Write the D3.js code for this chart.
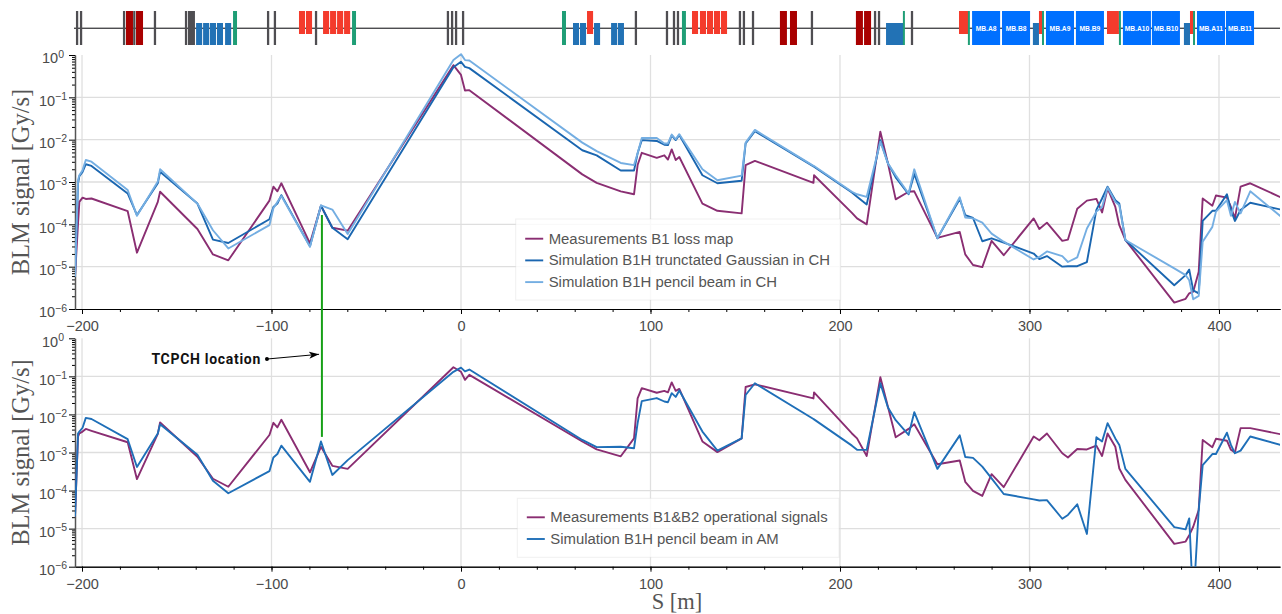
<!DOCTYPE html>
<html>
<head>
<meta charset="utf-8">
<script src="https://cdn.jsdelivr.net/npm/d3@7"></script>
<style>
  body { margin: 0; background: #fff; }
  svg { display: block; }
</style>
</head>
<body>
<div id="content"></div>
<script>
// BLM positions along the ring [m]
const sPositions = [
  -203.7,-202.1,-201.4,-199.7,-198,-195,-175.9,-171,-160,-158.8,-139.1,-130.9,-122.8,-101.1,-99,-96.9,-94.8,-79.7,-73.9,-67.9,-59.8,
  -4,0,2.1,4.4,64,71.6,84.3,91.3,93.2,95.4,103.3,107.3,109.2,111.2,113.3,115.2,127.4,135.3,148.1,150.2,155.1,186,186.3,
  206.3,209,214.1,221.3,225.3,229.4,236.2,239.2,251.4,263.2,266.1,270.2,275.1,280,286.4,302.2,305.2,309.2,317.3,320.3,325.2,330.3,335.3,338.3,341.2,345.3,347.4,350.6,376.4,382.4,384.3,386.4,389.3,391.4,396.5,398.4,404.2,406.3,408.4,411.4,416.5,432.5
];

// Series as log10(Gy/s)
const lossMapB1 = [
  -5.24,-3.98,-3.47,-3.37,-3.40,-3.39,-3.69,-4.67,-3.47,-3.23,-4.11,-4.71,-4.85,-3.44,-3.11,-3.22,-3.03,-4.45,-3.56,-4.08,-4.15,
  -0.24,-0.47,-0.84,-0.83,-2.82,-3.02,-3.22,-3.29,-2.60,-2.31,-2.43,-2.37,-2.47,-2.23,-2.48,-2.41,-3.51,-3.68,-3.74,-2.60,-2.50,-3.02,-2.84,
  -3.73,-3.86,-4.00,-1.81,-2.56,-3.41,-3.23,-3.22,-4.32,-4.18,-4.71,-4.96,-5.01,-4.39,-4.73,-3.86,-4.11,-3.96,-4.39,-4.36,-3.63,-3.44,-3.40,-3.72,-3.15,-3.59,-4.02,-4.37,-5.85,-5.76,-5.63,-5.59,-5.12,-3.39,-3.56,-3.32,-3.37,-3.59,-3.86,-3.11,-3.03,-3.36
];
const gaussianCH = [
  -5.24,-3.03,-2.86,-2.76,-2.58,-2.62,-3.27,-3.78,-3.03,-2.76,-3.51,-4.36,-4.44,-3.88,-3.59,-3.51,-3.31,-4.52,-3.56,-4.08,-4.35,
  -0.29,-0.16,-0.28,-0.31,-2.25,-2.37,-2.73,-2.73,-2.32,-2.01,-2.03,-2.12,-2.13,-1.90,-2.01,-1.89,-2.84,-3.03,-2.97,-2.09,-1.80,-2.63,-2.64,
  -3.25,-3.35,-3.53,-2.01,-2.56,-2.89,-3.29,-2.81,-4.33,-3.40,-3.78,-3.85,-4.40,-4.33,-4.43,-4.69,-4.82,-4.75,-5.00,-4.99,-4.99,-4.89,-3.66,-3.39,-3.11,-3.43,-3.51,-4.37,-5.44,-5.20,-5.07,-5.56,-5.63,-3.92,-3.68,-3.68,-3.29,-3.66,-3.92,-3.66,-3.49,-3.65
];
const pencilCH = [
  -5.24,-2.96,-2.84,-2.72,-2.48,-2.52,-3.19,-3.80,-2.99,-2.70,-3.51,-4.14,-4.57,-4.02,-3.62,-3.47,-3.33,-4.53,-3.55,-3.65,-4.23,
  -0.12,0.02,-0.12,-0.13,-2.07,-2.27,-2.55,-2.60,-2.32,-1.96,-1.96,-2.09,-2.09,-1.88,-1.99,-1.87,-2.70,-2.96,-2.85,-2.07,-1.77,-2.62,-2.62,
  -3.23,-3.29,-3.35,-2.05,-2.56,-2.84,-3.27,-2.70,-4.33,-3.36,-3.84,-3.86,-3.96,-4.22,-4.41,-4.83,-4.77,-4.64,-4.75,-4.89,-4.78,-4.10,-3.70,-3.59,-3.13,-3.47,-3.55,-4.37,-5.04,-5.20,-5.32,-5.77,-5.69,-4.41,-4.06,-3.70,-3.43,-3.80,-3.47,-3.74,-3.22,-3.81
];
const operational = [
  -4.68,-2.58,-2.50,-2.45,-2.38,-2.43,-2.73,-3.70,-2.51,-2.21,-3.11,-3.69,-3.90,-2.54,-2.22,-2.34,-2.14,-3.52,-2.85,-3.35,-3.43,
  -0.76,-0.88,-1.09,-0.96,-2.71,-2.92,-3.10,-2.63,-1.58,-1.31,-1.43,-1.38,-1.42,-1.16,-1.38,-1.33,-2.71,-2.99,-2.63,-1.28,-1.21,-1.58,-1.42,
  -2.50,-2.63,-3.09,-1.02,-1.80,-2.60,-2.38,-2.26,-3.31,-3.21,-3.77,-4.01,-4.14,-3.57,-3.91,-2.58,-2.68,-2.50,-3.02,-3.13,-2.91,-2.92,-2.82,-3.09,-2.50,-2.85,-3.42,-3.72,-5.40,-5.34,-5.17,-4.95,-4.51,-2.67,-2.86,-2.64,-2.69,-2.93,-3.00,-2.36,-2.36,-2.52
];
const pencilAM = [
  -4.68,-2.50,-2.45,-2.35,-2.09,-2.12,-2.65,-3.38,-2.50,-2.26,-3.06,-3.74,-4.07,-3.49,-3.13,-3.04,-2.82,-3.77,-2.71,-3.59,-3.20,
  -0.88,-0.77,-0.87,-0.82,-2.67,-2.86,-2.85,-2.89,-2.23,-1.65,-1.57,-1.66,-1.68,-1.44,-1.54,-1.37,-2.45,-2.95,-2.63,-1.49,-1.18,-2.12,-2.13,
  -2.82,-2.93,-2.93,-1.18,-1.82,-2.15,-2.54,-1.94,-3.43,-2.55,-3.12,-3.14,-3.37,-3.68,-4.09,-4.23,-4.26,-4.25,-4.74,-4.64,-4.36,-5.14,-2.60,-2.71,-2.23,-2.63,-2.80,-3.43,-4.96,-5.02,-4.73,-7.00,-4.51,-3.33,-3.04,-3.04,-2.48,-2.80,-3.02,-2.95,-2.58,-2.80
];

// Lattice elements, [start S, length] in metres
const thinCollimators = [-202.6,-200.5,-177.8,-172.4,-161.5,-145.1,-101.8,-98.2,-76.5,-6.9,-4.7,-2.6,1.1,92.3,108.7,112.4,114.5,147.2,149.3,154.1,185.2,218.5,220.6,238];
const darkRed = [[-176.8,3.7],[-171.5,3.7],[168.3,3.7],[173.6,3.7],[208.4,3.7],[212.7,3.7]];
const darkGrey = [[-144.1,3.7]];
const quads = [[-139.8,3.2],[-136.1,3.2],[-132.5,3.2],[-128.8,3.2],[-124.5,3.2],[59.1,3.2],[62.8,3.2],[70.2,3.2],[79.2,3.2],[82.8,3.2],[224.3,9],[301.8,3.2],[381.5,3.2]];
const greens = [[-120.3,2.1],[-57.5,2.1],[53.3,2.1],[116.6,2.1],[233.2,1.05],[267.5,1.05],[306.6,1.05],[347.2,1.05],[386.3,1.05]];
const reds = [[-85.5,3.2],[-81.8,3.2],[-72.8,3.2],[-69.1,3.2],[-65.4,3.2],[-61.7,3.2],[66.5,3.2],[121.9,3.2],[126.1,3.2],[129.8,3.2],[133.5,3.2],[137.2,3.2],[262.8,4.75],[305,1.6],[340.9,6.3],[384.7,1.6]];
const dipoles = [[269.7,14.8],[285.5,14.8],[308.7,14.8],[324.5,14.8],[349.3,14.8],[364.6,14.8],[388.4,14.8],[403.7,14.8]];
const dipoleNames = ['MB.A8','MB.B8','MB.A9','MB.B9','MB.A10','MB.B10','MB.A11','MB.B11'];

const xMajor = [-200,-100,0,100,200,300,400];
const xMinor = d3.range(-200, 421, 20);
const decades = [-6,-5,-4,-3,-2,-1,0];

const width = 1282, height = 614;
const FONT = '"Liberation Sans", Arial, sans-serif';
const SERIF = '"Liberation Serif", "DejaVu Serif", serif';
const PURPLE = '#8a2e72', DARKBLUE = '#1a66b0', LIGHTBLUE = '#74aee2', BLUE = '#1f6fb8';

const svg = d3.select('#content').append('svg')
  .attr('width', width)
  .attr('height', height)
  .style('font-family', FONT);

const x = d3.scaleLinear().domain([-203.7, 432.2]).range([75, 1280]);

// Top strip with the machine layout
const drawLattice = () => {
  const g = svg.append('g');
  g.append('line').attr('x1', 74).attr('x2', 1280).attr('y1', 27.5).attr('y2', 27.5)
    .attr('stroke', '#b5b5b5').attr('stroke-width', 1);
  g.append('line').attr('x1', 74).attr('x2', 1280).attr('y1', 28.5).attr('y2', 28.5)
    .attr('stroke', '#4d4d50').attr('stroke-width', 1);

  const boxes = (list, y0, y1, fill) => {
    g.selectAll(null).data(list).enter().append('rect')
      .attr('x', d => x(d[0]))
      .attr('y', y0)
      .attr('width', d => x(d[0] + d[1]) - x(d[0]))
      .attr('height', y1 - y0)
      .attr('fill', fill);
  };
  boxes(thinCollimators.map(s => [s - 0.6, 1.2]), 11, 45, '#4f4e52');
  boxes(darkGrey, 11, 45, '#4f4e52');
  boxes(darkRed, 11, 45, '#a90000');
  boxes(quads, 23, 45, '#2272b5');
  boxes(reds, 11, 34, '#f43b2c');
  boxes(greens, 11, 45, '#1f9e76');
  boxes(dipoles, 11, 45, '#0070ff');

  g.selectAll(null).data(dipoles).enter().append('text')
    .attr('x', d => x(d[0] + d[1] / 2))
    .attr('y', 30.5)
    .attr('text-anchor', 'middle')
    .attr('fill', '#fff')
    .style('font-size', '6.7px')
    .style('font-weight', 'bold')
    .text((d, i) => dipoleNames[i]);
};

// One panel of BLM signal, returns its y scale
const drawPanel = (yRange, series, legendItems, legendBox, clipId) => {
  const y = d3.scaleLog().domain([1e-6, 1]).range(yRange);
  const panel = svg.append('g');
  const bottom = yRange[0], top = yRange[1];

  // Grid
  panel.selectAll(null).data(xMajor).enter().append('line')
    .attr('x1', d => x(d)).attr('x2', d => x(d))
    .attr('y1', top).attr('y2', bottom)
    .attr('stroke', '#e0e0e0').attr('stroke-width', 1.3);
  panel.selectAll(null).data(decades.slice(1, -1)).enter().append('line')
    .attr('x1', 75).attr('x2', 1280)
    .attr('y1', d => y(10 ** d)).attr('y2', d => y(10 ** d))
    .attr('stroke', '#dedede').attr('stroke-width', 1.3);

  // Axes
  const xMinorAxis = d3.axisBottom(x).tickValues(xMinor).tickSize(3).tickSizeOuter(0).tickFormat('');
  const xAxis = d3.axisBottom(x).tickValues(xMajor).tickSize(5).tickPadding(7).tickSizeOuter(0).tickFormat(d3.format('d'));
  panel.append('g').attr('transform', `translate(0,${bottom})`).call(xMinorAxis);
  const gx = panel.append('g').attr('transform', `translate(0,${bottom})`).call(xAxis);
  gx.selectAll('text').style('font-size', '14.5px').style('font-family', FONT).attr('fill', '#4a4a4a');

  const minorVals = [];
  decades.slice(0, -1).forEach(e => d3.range(2, 10).forEach(m => minorVals.push(m * 10 ** e)));
  const yMinorAxis = d3.axisLeft(y).tickValues(minorVals).tickSize(3).tickSizeOuter(0).tickFormat('');
  const yAxis = d3.axisLeft(y).tickValues(decades.map(e => 10 ** e)).tickSize(6).tickSizeOuter(0).tickFormat('');
  panel.append('g').attr('transform', 'translate(75,0)').call(yMinorAxis);
  const gy = panel.append('g').attr('transform', 'translate(75,0)').call(yAxis);
  gy.select('.domain').attr('stroke', '#555').attr('stroke-width', 1.5);
  gy.selectAll('.tick text').data(decades)
    .attr('x', -22)
    .attr('dy', 7.7)
    .attr('text-anchor', 'middle')
    .attr('fill', '#4a4a4a')
    .style('font-size', '14.5px')
    .style('font-family', FONT)
    .each(function(e) {
      const t = d3.select(this);
      t.text('10');
      t.append('tspan').attr('dy', -5.5).style('font-size', '10.5px').text(e === 0 ? '0' : '\u2212' + Math.abs(e));
    });

  // Curves
  svg.append('clipPath').attr('id', clipId).append('rect')
    .attr('x', 75).attr('y', top - 6).attr('width', 1205).attr('height', bottom - top + 6);
  const line = d3.line().x((d, i) => x(sPositions[i])).y(d => y(10 ** d));
  const curves = svg.append('g').attr('clip-path', `url(#${clipId})`);
  curves.selectAll('path').data(series).enter().append('path')
    .attr('fill', 'none')
    .attr('stroke', d => d.color)
    .attr('stroke-width', 1.9)
    .attr('stroke-linejoin', 'round')
    .attr('d', d => line(d.values));

  // Y title
  svg.append('text')
    .attr('transform', `translate(28.5,${(top + bottom) / 2}) rotate(-90)`)
    .attr('text-anchor', 'middle')
    .attr('fill', '#555')
    .style('font-family', SERIF)
    .style('font-size', '24.5px')
    .text('BLM signal [Gy/s]');

  // Legend
  const lg = svg.append('g').attr('class', 'legend');
  lg.append('rect')
    .attr('x', legendBox.x).attr('y', legendBox.y)
    .attr('width', legendBox.w).attr('height', legendBox.h)
    .attr('fill', 'rgba(255,255,255,0.8)')
    .attr('stroke', 'rgba(204,204,204,0.3)');
  legendItems.forEach((it, i) => {
    const ly = legendBox.y + legendBox.first + i * 21.7;
    lg.append('line')
      .attr('x1', legendBox.x + 9.5).attr('x2', legendBox.x + 27.5)
      .attr('y1', ly).attr('y2', ly)
      .attr('stroke', it.color).attr('stroke-width', 1.9);
    lg.append('text')
      .attr('x', legendBox.x + 33)
      .attr('y', ly + 5)
      .attr('fill', '#555')
      .style('font-size', '14.9px')
      .text(it.label);
  });
  return y;
};

// Curves and legend labels per panel
const topSeries = [
  { values: lossMapB1, color: PURPLE, label: 'Measurements B1 loss map' },
  { values: gaussianCH, color: DARKBLUE, label: 'Simulation B1H trunctated Gaussian in CH' },
  { values: pencilCH, color: LIGHTBLUE, label: 'Simulation B1H pencil beam in CH' }
];
const bottomSeries = [
  { values: operational, color: PURPLE, label: 'Measurements B1&B2 operational signals' },
  { values: pencilAM, color: BLUE, label: 'Simulation B1H pencil beam in AM' }
];

drawLattice();
const yTop = drawPanel([309, 55], topSeries, topSeries, { x: 515.7, y: 219, w: 325, h: 81, first: 19.7 }, 'clipTop');
const yBottom = drawPanel([566.7, 338.3], bottomSeries, bottomSeries, { x: 517.3, y: 498.3, w: 321.7, h: 59, first: 19 }, 'clipBottom');

// X title
svg.append('text')
  .attr('x', 677)
  .attr('y', 609)
  .attr('text-anchor', 'middle')
  .attr('fill', '#555')
  .style('font-family', SERIF)
  .style('font-size', '22.5px')
  .text('S [m]');

// TCPCH marker line, running from the top panel into the bottom one
const tcpchS = -73.4;
svg.append('line')
  .attr('x1', x(tcpchS)).attr('x2', x(tcpchS))
  .attr('y1', yTop(10 ** -3.78)).attr('y2', yBottom(10 ** -2.59))
  .attr('stroke', '#16a016').attr('stroke-width', 2);

// Annotation
svg.append('defs').append('marker')
  .attr('id', 'arrow')
  .attr('viewBox', '0 0 10 8')
  .attr('refX', 10).attr('refY', 4)
  .attr('markerWidth', 10).attr('markerHeight', 8)
  .attr('markerUnits', 'userSpaceOnUse')
  .attr('orient', 'auto')
  .append('path')
  .attr('d', 'M0,0.5 L10,4 L0,7.5 L2.5,4 Z')
  .attr('fill', '#000');
const dotS = -102.4, tipS = -74.9;
svg.append('line')
  .attr('x1', x(dotS)).attr('y1', yBottom(10 ** -0.545))
  .attr('x2', x(tipS)).attr('y2', yBottom(10 ** -0.42))
  .attr('stroke', '#000').attr('stroke-width', 1)
  .attr('marker-end', 'url(#arrow)');
svg.append('circle')
  .attr('cx', x(dotS)).attr('cy', yBottom(10 ** -0.545)).attr('r', 2).attr('fill', '#000');
svg.append('text')
  .attr('x', 261)
  .attr('y', 364)
  .attr('text-anchor', 'end')
  .attr('fill', '#111')
  .style('font-family', 'Roboto, sans-serif')
  .style('font-weight', 'bold')
  .style('font-size', '14px')
  .style('letter-spacing', '0.7px')
  .text('TCPCH location');
</script>
</body>
</html>
